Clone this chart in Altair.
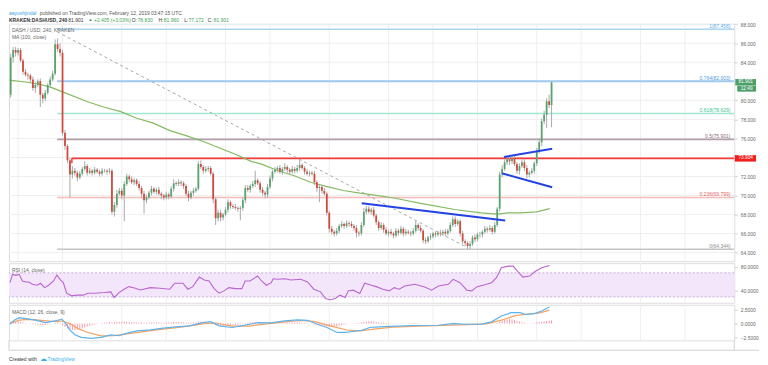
import altair as alt
import pandas as pd

# ---------------- data ----------------
# 4-hour candles, KRAKEN DASH/USD; day = days since Jan 7 2019 00:00 UTC
first_day = -2 / 3
candle_step = 1 / 6
first_open = 79.3
closes = [
    80.6, 84.5, 85.3, 85.0, 85.3, 84.2,
    83.0, 82.7, 82.6, 82.2, 81.3, 81.6,
    82.0, 80.6, 80.2, 80.8, 81.6, 82.2,
    82.8, 85.9, 85.4, 85.0, 76.6, 75.2,
    73.7, 72.2, 72.6, 72.4, 71.9, 72.3,
    72.8, 73.1, 72.4, 72.6, 72.4, 72.7,
    72.5, 72.3, 72.6, 72.6, 72.5, 72.6,
    68.3, 69.0, 70.2, 70.5, 70.0, 71.2,
    72.0, 71.7, 71.4, 71.6, 71.2, 70.8,
    70.2, 69.5, 69.8, 70.3, 70.7, 70.4,
    70.6, 70.2, 70.0, 69.8, 70.1, 69.9,
    70.7, 71.3, 71.2, 71.4, 71.3, 71.0,
    70.2, 69.8, 70.3, 70.5, 70.7, 73.3,
    73.0, 72.6, 72.8, 72.9, 72.3, 69.6,
    67.6, 68.2, 67.7, 68.0, 68.5, 69.3,
    68.9, 68.8, 68.7, 68.6, 68.7, 69.5,
    70.8, 70.6, 71.0, 71.2, 71.6, 71.3,
    70.6, 70.3, 70.1, 70.9, 71.8, 72.5,
    72.7, 72.9, 72.5, 72.8, 73.0, 72.7,
    72.5, 72.8, 72.6, 72.9, 73.2, 72.9,
    72.5, 72.3, 72.4, 72.3, 71.4, 70.8,
    70.9, 70.5, 70.2, 68.2, 66.5, 66.2,
    66.0, 66.3, 66.8, 67.0, 66.8, 67.1,
    67.0, 66.8, 66.6, 66.1, 66.0, 66.9,
    68.3, 68.6, 68.3, 68.5, 67.9, 67.2,
    66.6, 66.9, 66.4, 66.0, 66.2, 66.0,
    65.8, 66.3, 66.1, 66.5, 66.0, 66.2,
    66.1, 66.0, 66.3, 66.9, 66.6, 66.3,
    65.3, 65.2, 65.6, 65.7, 66.0, 65.9,
    66.1, 66.0, 66.2, 66.0, 66.3, 66.9,
    67.5, 67.0, 67.3, 66.0, 65.2, 65.0,
    64.7, 64.9, 65.6, 65.4, 65.9, 65.9,
    66.2, 66.5, 66.4, 66.6, 66.2, 66.9,
    68.6, 72.2, 72.8, 73.5, 73.8, 73.6,
    73.9, 73.3, 72.6, 73.1, 73.5, 72.9,
    72.2, 72.4, 72.6, 73.4, 74.7, 75.6,
    77.8, 78.5, 79.9, 79.5, 81.901,
]
upper_wick = [
    0.3, 0.4, 0.3, 0.3, 0.2, 0.2,
    0.2, 0.3, 0.2, 0.2, 0.3, 0.3,
    0.2, 0.3, 0.2, 0.3, 0.2, 0.3,
    0.3, 0.5, 0.6, 0.6, 0.3, 0.3,
    0.2, 0.3, 0.5, 0.3, 0.2, 0.3,
    0.2, 0.5, 0.2, 0.3, 0.2, 0.3,
    0.2, 0.2, 0.3, 0.2, 0.2, 0.3,
    0.2, 0.3, 0.4, 0.3, 0.3, 0.3,
    0.3, 0.2, 0.3, 0.2, 0.2, 0.3,
    0.2, 0.3, 0.3, 0.2, 0.3, 0.2,
    0.2, 0.3, 0.2, 0.2, 0.3, 0.2,
    0.3, 0.4, 0.2, 0.3, 0.2, 0.2,
    0.2, 0.3, 0.2, 0.3, 0.2, 0.3,
    0.4, 0.2, 0.3, 0.2, 0.2, 0.2,
    0.2, 0.3, 0.3, 0.2, 0.3, 0.3,
    0.2, 0.2, 0.3, 0.2, 0.2, 0.3,
    0.3, 0.3, 0.2, 0.3, 1.0, 0.2,
    0.2, 0.3, 0.2, 0.3, 0.3, 0.2,
    0.3, 0.2, 0.3, 0.2, 0.4, 0.2,
    0.2, 0.3, 0.2, 0.3, 0.6, 0.2,
    0.2, 0.3, 0.2, 0.2, 0.3, 0.2,
    0.3, 0.2, 0.3, 0.2, 0.2, 0.3,
    0.2, 0.3, 0.2, 0.3, 0.2, 0.3,
    0.2, 0.3, 0.2, 0.3, 0.2, 0.3,
    0.4, 0.3, 0.3, 0.2, 0.3, 0.2,
    0.2, 0.3, 0.2, 0.3, 0.2, 0.3,
    0.2, 0.3, 0.2, 0.3, 0.2, 0.3,
    0.2, 0.2, 0.3, 0.4, 0.2, 0.3,
    0.2, 0.3, 0.2, 0.3, 0.2, 0.2,
    0.2, 0.3, 0.2, 0.3, 0.2, 0.3,
    0.3, 0.3, 0.2, 0.2, 0.3, 0.2,
    0.2, 0.3, 0.2, 0.3, 0.2, 0.3,
    0.2, 0.3, 0.2, 0.3, 0.2, 0.3,
    0.2, 0.3, 0.4, 0.3, 0.3, 0.3,
    0.2, 0.3, 0.2, 0.3, 0.3, 0.3,
    0.3, 0.2, 0.3, 0.2, 0.3, 0.4,
    0.3, 0.4, 0.3, 0.7, 0.06,
]
lower_wick = [
    0.3, 0.3, 0.5, 0.4, 0.3, 0.2,
    0.3, 0.2, 0.4, 0.3, 0.3, 0.5,
    0.2, 1.3, 0.5, 0.3, 0.2, 0.2,
    0.2, 0.2, 0.3, 0.4, 0.3, 0.4,
    0.3, 2.4, 0.4, 0.3, 0.4, 0.2,
    0.2, 0.2, 0.3, 0.2, 0.3, 0.2,
    0.2, 0.3, 0.2, 0.2, 0.3, 0.2,
    0.3, 0.5, 0.3, 0.2, 0.4, 2.7,
    0.2, 0.3, 0.2, 0.3, 0.2, 0.3,
    0.4, 1.4, 0.3, 0.2, 0.3, 0.2,
    0.3, 0.2, 0.4, 0.3, 0.2, 0.3,
    0.2, 0.3, 0.2, 0.2, 0.3, 0.3,
    0.3, 0.4, 0.2, 0.3, 0.2, 0.2,
    0.2, 0.3, 0.2, 0.3, 0.2, 0.4,
    0.7, 0.3, 0.4, 0.3, 0.2, 0.3,
    0.3, 0.2, 0.2, 0.3, 1.2, 0.3,
    0.3, 0.2, 0.3, 0.2, 0.3, 0.2,
    0.3, 0.3, 0.4, 0.3, 0.2, 0.3,
    0.2, 0.3, 0.2, 0.3, 0.2, 0.3,
    0.3, 0.2, 0.3, 0.2, 0.3, 0.2,
    0.3, 0.2, 0.3, 0.2, 0.3, 0.4,
    1.5, 0.3, 0.2, 0.3, 0.4, 0.3,
    0.3, 0.2, 0.3, 0.2, 0.3, 0.2,
    0.3, 0.2, 0.3, 0.5, 0.3, 0.2,
    0.2, 0.3, 0.2, 0.3, 0.2, 0.3,
    0.3, 0.2, 0.3, 0.2, 0.3, 0.2,
    0.3, 0.2, 0.3, 0.2, 0.3, 0.2,
    0.2, 0.3, 0.2, 0.2, 0.3, 0.2,
    0.3, 0.3, 0.2, 0.3, 0.2, 0.3,
    0.2, 0.3, 0.2, 0.3, 0.2, 0.2,
    0.2, 0.3, 0.2, 0.3, 0.3, 0.3,
    0.35, 0.3, 0.2, 0.3, 0.2, 0.3,
    0.3, 0.2, 0.3, 0.2, 0.3, 0.2,
    0.2, 0.3, 0.3, 0.2, 0.3, 0.4,
    0.3, 0.2, 0.3, 0.4, 0.2, 0.3,
    0.4, 0.3, 0.2, 0.3, 0.3, 0.3,
    0.4, 0.3, 1.4, 0.3, 2.33,
]
macd_hist = [
    0.2, 0.3, 0.4, 0.45, 0.4, 0.3,
    0.2, 0.1, 0.0, -0.05, -0.1, -0.15,
    -0.2, -0.25, -0.3, -0.25, -0.2, -0.1,
    0.0, 0.15, 0.2, 0.1, -0.3, -0.6,
    -0.85, -1.05, -1.15, -1.2, -1.1, -1.0,
    -0.85, -0.7, -0.55, -0.4, -0.3, -0.2,
    -0.1, 0.0, 0.1, 0.15, 0.2, 0.25,
    0.2, 0.25, 0.3, 0.3, 0.3, 0.35,
    0.3, 0.3, 0.25, 0.25, 0.2, 0.2,
    0.2, 0.15, 0.15, 0.2, 0.2, 0.25,
    0.2, 0.2, 0.15, 0.15, 0.2, 0.2,
    0.25, 0.3, 0.3, 0.3, 0.25, 0.2,
    0.15, 0.15, 0.2, 0.2, 0.2, 0.35,
    0.35, 0.3, 0.25, 0.2, 0.1, -0.1,
    -0.3, -0.35, -0.4, -0.4, -0.35, -0.3,
    -0.3, -0.25, -0.25, -0.2, -0.15, -0.05,
    0.1, 0.15, 0.2, 0.25, 0.3, 0.3,
    0.25, 0.2, 0.15, 0.2, 0.25, 0.3,
    0.3, 0.3, 0.25, 0.25, 0.25, 0.2,
    0.2, 0.2, 0.2, 0.2, 0.2, 0.15,
    0.1, 0.05, 0.0, -0.05, -0.15, -0.25,
    -0.3, -0.35, -0.4, -0.5, -0.6, -0.6,
    -0.55, -0.5, -0.4, -0.3, -0.2, -0.1,
    -0.05, 0.0, 0.05, 0.1, 0.1, 0.2,
    0.3, 0.35, 0.4, 0.4, 0.35, 0.3,
    0.25, 0.2, 0.15, 0.1, 0.1, 0.05,
    0.05, 0.05, 0.05, 0.05, 0.05, 0.05,
    0.05, 0.05, 0.05, 0.1, 0.1, 0.05,
    0.0, -0.05, -0.05, 0.0, 0.0, 0.05,
    0.05, 0.05, 0.05, 0.05, 0.05, 0.1,
    0.15, 0.15, 0.1, 0.05, 0.0, -0.05,
    -0.1, -0.1, -0.05, -0.05, 0.0, 0.0,
    0.05, 0.05, 0.05, 0.05, 0.05, 0.05,
    0.1, 0.3, 0.5, 0.65, 0.75, 0.8,
    0.75, 0.65, 0.5, 0.35, 0.25, 0.15,
    0.05, 0.0, 0.05, 0.1, 0.2, 0.3,
    0.35, 0.4, 0.45, 0.5, 0.55,
]

# MA(100, close)
ma_day = [-0.59, 0.51, 1.38, 2.28, 3.17, 4.69, 5.82, 6.93, 8.01, 9.13, 10.24, 11.34,
          12.45, 13.56, 14.66, 15.77, 16.43, 17.54, 18.64, 19.74, 20.85, 21.95, 23.06,
          24.17, 25.27, 27.26, 29.47, 31.24, 32.34, 33.01, 33.89, 35.0, 35.88]
ma_val = [82.13, 81.93, 81.72, 81.34, 80.79, 79.85, 79.28, 78.82, 78.12, 77.61, 76.82, 76.30,
          75.71, 75.02, 74.33, 73.56, 73.30, 72.60, 72.08, 71.39, 70.94, 70.53, 70.25,
          70.01, 69.77, 69.15, 68.53, 68.18, 68.04, 68.18, 68.18, 68.28, 68.63]

# RSI(14, close)
rsi_day = [-0.55, -0.37, -0.15, 0.07, 0.30, 0.51, 0.73, 0.96, 1.29, 1.51, 1.79, 2.06, 2.39,
           2.62, 2.83, 3.05, 3.28, 3.61, 3.94, 4.38, 4.71, 5.16, 5.82, 6.26, 6.48, 6.81,
           7.15, 7.48, 7.92, 8.25, 8.92, 9.58, 10.24, 10.57, 11.12, 11.46, 11.79, 12.23,
           12.56, 12.89, 13.23, 13.56, 13.89, 14.22, 14.66, 15.10, 15.32, 15.65, 16.16,
           16.43, 16.76, 17.09, 17.21, 17.54, 17.97, 18.42, 19.08, 19.53, 19.96, 20.41,
           20.74, 21.07, 21.40, 21.73, 22.07, 22.28, 22.62, 23.06, 23.39, 23.84, 24.17,
           24.61, 25.05, 25.38, 25.71, 26.11, 26.77, 27.44, 27.90, 28.37, 29.03, 29.36,
           29.82, 30.29, 30.62, 30.95, 31.61, 31.95, 32.28, 32.61, 33.08, 33.41, 33.74,
           34.07, 34.53, 34.86, 35.33, 35.86]
rsi_val = [53.7, 67.5, 65.8, 67.5, 56.5, 54.8, 54.8, 51.0, 49.4, 52.7, 45.4, 49.4, 56.5,
           66.3, 59.3, 53.7, 36.2, 31.8, 32.9, 32.9, 36.2, 36.2, 37.2, 38.4, 29.0, 37.2,
           42.8, 47.1, 44.4, 41.6, 45.4, 44.4, 42.8, 52.7, 52.7, 42.8, 47.1, 63.0,
           58.1, 56.5, 43.8, 36.2, 40.0, 45.4, 43.8, 43.8, 56.5, 56.5, 64.7,
           56.5, 49.4, 53.7, 60.2, 59.3, 60.2, 58.1, 59.3, 54.8, 42.8, 38.4,
           27.3, 25.2, 27.3, 32.9, 29.0, 40.0, 41.2, 35.6, 52.7, 49.4, 47.1,
           42.8, 40.0, 45.4, 42.8, 48.2, 51.0, 46.6, 41.2, 48.2, 51.0, 59.3,
           53.7, 41.2, 40.0, 46.6, 51.0, 53.7, 61.9, 78.4, 81.2, 81.2, 71.8,
           63.0, 64.7, 71.8, 78.4, 82.3]
rsi_band = [30, 70]

# MACD(12, 26, close, 9)
macd_day = [-0.55, -0.26, 0.07, 0.51, 1.18, 1.84, 2.50, 2.95, 3.17, 3.50, 3.83, 4.27, 4.94,
            5.60, 6.26, 6.81, 7.36, 8.03, 8.92, 9.80, 10.68, 11.57, 12.45, 13.0, 13.56,
            14.44, 15.32, 16.21, 17.09, 17.97, 18.86, 19.53, 20.19, 20.85, 21.51, 22.07,
            22.62, 23.28, 23.72, 24.39, 25.05, 26.77, 28.37, 29.36, 30.35, 31.28, 31.95,
            32.61, 33.27, 33.87, 34.20, 34.86, 35.33, 35.86]
macd_val = [-0.1, 0.6, 1.06, 0.88, 0.6, 0.18, 0.47, 0.76, 0.18, -1.17, -2.0, -2.46, -2.64,
            -2.46, -2.0, -2.17, -1.7, -1.29, -1.11, -0.82, -0.59, -0.41, 0.18, 0.35, -0.41,
            -0.7, -0.29, 0.18, 0.12, 0.47, 0.65, 0.58, -0.12, -0.7, -1.58, -1.58,
            -1.41, -1.17, -0.7, -0.59, -0.5, -0.35, -0.3, 0.0, -0.12, -0.1, 0.3,
            1.35, 1.94, 1.94, 1.64, 1.76, 2.23, 2.94]
signal_day = [-0.55, 0.07, 0.73, 1.40, 2.28, 2.95, 3.50, 4.05, 4.71, 5.60, 6.48, 7.36, 8.47,
              9.80, 11.12, 12.45, 13.33, 14.44, 15.55, 16.65, 17.97, 19.08, 19.96, 21.07,
              22.18, 23.06, 24.17, 25.27, 27.04, 28.70, 30.35, 31.61, 32.61, 33.54, 34.53,
              35.20, 35.86]
signal_val = [0.0, 0.6, 0.76, 0.6, 0.4, 0.45, 0.0, -0.9, -1.6, -2.2, -2.15, -1.85, -1.45,
              -1.0, -0.6, -0.05, 0.1, -0.45, -0.45, -0.1, 0.3, 0.55, 0.4, -0.4,
              -1.15, -1.3, -0.95, -0.65, -0.45, -0.32, -0.18, -0.05, 0.6, 1.4, 1.7,
              1.9, 2.4]

# Fibonacci retracement
fib_ratio = ["1", "0.764", "0.618", "0.5", "0.236", "0"]
fib_price = [87.458, 82.003, 78.629, 75.901, 69.799, 64.344]
fib_start_day = 2.64
resistance_price = 73.904
resistance_start_day = 3.63

# drawn trend lines: (day, price) end points
dash_day = [2.64, 30.35]
dash_price = [87.2, 64.5]
blue_id = ["a", "a", "b", "b", "c", "c"]
blue_day = [23.19, 32.87, 32.79, 36.04, 32.68, 36.04]
blue_price = [69.18, 67.37, 74.05, 74.91, 72.32, 70.87]

tick_day = [0, 3, 7, 10, 14, 17, 21, 25, 28, 31, 35, 38, 42, 45]
tick_label = ["7", "10", "14", "17", "21", "24", "28", "Feb", "4", "7", "11", "14", "18", "21"]
price_grid = [64, 66, 68, 70, 72, 74, 76, 78, 80, 82, 84, 86, 88]
# 82 and 74 are hidden behind the last-price and line-price tags
price_labels = [64, 66, 68, 70, 72, 76, 78, 80, 84, 86, 88]

# ---------------- layout / style ----------------
W = 733
H1, H2, H3 = 240, 40, 36
XDOM = [-0.613, 48.33]
UP, DOWN, WICK = "#58a36f", "#d14a3d", "#a9a9a9"
FONT = "Liberation Sans"
fib_line_col = ["#a9d4f4", "#9fc8ee", "#a3e8d3", "#b39fab", "#f5baba", "#c6c6c6"]
fib_text_col = ["#5eaee8", "#4d9bdc", "#3fc39a", "#8a6b7c", "#e26565", "#8c8c8c"]
fib_width = [1.5, 2, 1.5, 2, 1.5, 1.5]

xs = alt.Scale(domain=XDOM, nice=False, zero=False)
X = lambda f: alt.X(f, type="quantitative", scale=xs, axis=None)

one = pd.DataFrame({"k": [0]})


def label(text, x, y, color="#555", size=5, weight="normal", align="left"):
    return alt.Chart(one).mark_text(
        text=text, align=align, baseline="middle", fontSize=size, fontWeight=weight,
        color=color, font=FONT, clip=False
    ).encode(x=alt.value(x), y=alt.value(y))


# ---------------- tables ----------------
n = len(closes)
opens = [first_open] + closes[:-1]
candles = pd.DataFrame({
    "day": [first_day + i * candle_step for i in range(n)],
    "open": opens,
    "close": closes,
    "high": [max(o, c) + u for o, c, u in zip(opens, closes, upper_wick)],
    "low": [min(o, c) - l for o, c, l in zip(opens, closes, lower_wick)],
    "hist": macd_hist,
})
candles["col"] = [UP if c >= o else DOWN for o, c in zip(opens, closes)]

fib = pd.DataFrame({
    "start": fib_start_day, "end": XDOM[1], "price": fib_price,
    "lab": [f"{r}({p:.3f})" for r, p in zip(fib_ratio, fib_price)],
    "lc": fib_line_col, "tc": fib_text_col, "w": fib_width,
})
ticks = pd.DataFrame({"day": tick_day})
pgrid = pd.DataFrame({"p": price_grid})
ma = pd.DataFrame({"day": ma_day, "v": ma_val})
rsi = pd.DataFrame({"day": rsi_day, "v": rsi_val})
macd = pd.DataFrame({"day": macd_day, "v": macd_val})
sig = pd.DataFrame({"day": signal_day, "v": signal_val})
dash = pd.DataFrame({"day": dash_day, "price": dash_price})
blue = pd.DataFrame({"id": blue_id, "day": blue_day, "price": blue_price})
res = pd.DataFrame({"start": [resistance_start_day], "end": [XDOM[1]],
                    "price": [resistance_price], "lo": [resistance_price - 0.5]})
last = pd.DataFrame({"price": [closes[-1]], "t": [f"{closes[-1]:.3f}"]})
resbox = pd.DataFrame({"price": [resistance_price], "t": [f"{resistance_price:.3f}"]})

# ---------------- main price panel ----------------
ys = alt.Scale(domain=[63.1, 88.05], nice=False, zero=False)
yax = alt.Axis(orient="right", values=price_labels, format=".3f", grid=False,
               domain=False, tickSize=3, tickColor="#cfcfcf",
               labelFontSize=5, labelColor="#6a6a6a", labelPadding=3, title=None,
               labelFont=FONT)
Y = lambda f: alt.Y(f, type="quantitative", scale=ys, axis=yax)

vgrid = lambda: alt.Chart(ticks).mark_rule(color="#efefef", strokeWidth=1).encode(x=X("day"))
hgrid = alt.Chart(pgrid).mark_rule(color="#efefef", strokeWidth=1, clip=True).encode(y=Y("p"))

fib_lines = alt.Chart(fib).mark_rule(clip=True).encode(
    x=X("start"), x2="end", y=Y("price"),
    color=alt.Color("lc:N", scale=None), strokeWidth=alt.StrokeWidth("w:Q", scale=None))
fib_text = alt.Chart(fib).mark_text(align="right", baseline="bottom", fontSize=5, dy=-0.5,
                                    font=FONT).encode(
    x=alt.value(W - 4), y=Y("price"), text="lab:N", color=alt.Color("tc:N", scale=None))
res_line = alt.Chart(res).mark_rule(color="#f23c3c", strokeWidth=2, clip=True).encode(
    x=X("start"), x2="end", y=Y("price"))
res_tick = alt.Chart(res).mark_rule(color="#f23c3c", strokeWidth=1.5).encode(
    x=X("start"), y=Y("price"), y2="lo")
ma_line = alt.Chart(ma).mark_line(color="#84bb62", strokeWidth=1.2, clip=True).encode(
    x=X("day"), y=Y("v"))
dash_line = alt.Chart(dash).mark_line(color="#a6a6a6", strokeWidth=1, strokeDash=[3, 3]).encode(
    x=X("day"), y=Y("price"))
wicks = alt.Chart(candles).mark_rule(color=WICK, strokeWidth=1, clip=True).encode(
    x=X("day"), y=Y("low"), y2="high")
bodies = alt.Chart(candles).mark_rule(strokeWidth=1.8, clip=True).encode(
    x=X("day"), y=Y("open"), y2="close", color=alt.Color("col:N", scale=None))
blue_lines = alt.Chart(blue).mark_line(color="#2342e3", strokeWidth=2).encode(
    x=X("day"), y=Y("price"), detail="id:N")
box_last = alt.Chart(last).mark_rule(color="#4f9f6a", strokeWidth=6.5, strokeCap="butt",
                                     clip=False).encode(
    x=alt.value(W + 1), x2=alt.value(W + 22), y=Y("price"))
box_last2 = alt.Chart(last).mark_rule(color="#4f9f6a", strokeWidth=6, strokeCap="butt",
                                      clip=False, yOffset=6.5).encode(
    x=alt.value(W + 3), x2=alt.value(W + 22), y=Y("price"))
txt_last = alt.Chart(last).mark_text(color="white", fontSize=4.8, font=FONT, clip=False).encode(
    x=alt.value(W + 11.5), y=Y("price"), text="t:N")
txt_last2 = alt.Chart(last).mark_text(text="12:49", color="white", fontSize=4.8, font=FONT,
                                      clip=False, yOffset=6.5).encode(
    x=alt.value(W + 12.5), y=Y("price"))
box_res = alt.Chart(resbox).mark_rule(color="#f21d1d", strokeWidth=6.5, strokeCap="butt",
                                      clip=False).encode(
    x=alt.value(W + 0.5), x2=alt.value(W + 22), y=Y("price"))
txt_res = alt.Chart(resbox).mark_text(color="white", fontSize=4.8, font=FONT, clip=False).encode(
    x=alt.value(W + 11.5), y=Y("price"), text="t:N")

G = "#3e9f55"
header = [
    label("aayushjindal", 0, -11, "#3a9fe0"),
    label("published on TradingView.com, February 12, 2019 03:47:15 UTC", 31, -11, "#555"),
    label("KRAKEN:DASHUSD, 240", 0, -4, "#333", weight="bold"),
    label("81.901", 60, -4, "#333"),
    label("▲", 80, -4, G, size=4.5),
    label("+2.405 (+3.03%)", 86, -4, G),
    label("O:", 124, -4, "#333"), label("78.830", 130, -4, G),
    label("H:", 151, -4, "#333"), label("81.960", 156.5, -4, G),
    label("L:", 177, -4, "#333"), label("77.172", 181.5, -4, G),
    label("C:", 201, -4, "#333"), label("81.901", 207, -4, G),
    label("DASH / USD, 240, KRAKEN", 3, 6, "#666"),
    label("MA (100, close)", 3, 13, "#666"),
]

main = alt.layer(
    hgrid, vgrid(), fib_lines, res_line, res_tick, ma_line, dash_line, wicks, bodies,
    blue_lines, fib_text, box_last, box_last2, txt_last, txt_last2, box_res, txt_res, *header,
).properties(width=W, height=H1)

# ---------------- RSI panel ----------------
rs = alt.Scale(domain=[20.25, 86.1], nice=False, zero=False)
rax = alt.Axis(orient="right", values=[40, 80], format=".4f", grid=False, domain=False,
               tickSize=3, tickColor="#cfcfcf", labelFontSize=5, labelColor="#6a6a6a",
               labelPadding=3, title=None, labelFont=FONT)
RY = lambda f: alt.Y(f, type="quantitative", scale=rs, axis=rax)
band = pd.DataFrame({"lo": [rsi_band[0]], "hi": [rsi_band[1]]})
bandlines = pd.DataFrame({"v": rsi_band})
rsi_panel = alt.layer(
    vgrid(),
    alt.Chart(band).mark_rect(color="#f3e6fb").encode(
        x=alt.value(0), x2=alt.value(W), y=RY("hi"), y2="lo"),
    alt.Chart(bandlines).mark_rule(color="#c7b2d8", strokeDash=[2, 2], strokeWidth=1).encode(
        y=RY("v")),
    alt.Chart(rsi).mark_line(color="#b966cf", strokeWidth=1.1, clip=True).encode(
        x=X("day"), y=RY("v")),
    label("RSI (14, close)", 3, 7, "#666"),
).properties(width=W, height=H2)

# ---------------- MACD panel ----------------
ms = alt.Scale(domain=[-2.99, 3.35], nice=False, zero=False)
max_ = alt.Axis(orient="right", values=[-2.5, 0, 2.5], format=".4f", grid=False, domain=False,
                tickSize=3, tickColor="#cfcfcf", labelFontSize=5, labelColor="#6a6a6a",
                labelPadding=3, title=None, labelFont=FONT)
MY = lambda f: alt.Y(f, type="quantitative", scale=ms, axis=max_)
label_expr = ("[" + ",".join(f"'{t}'" for t in tick_label) + "][indexof(["
              + ",".join(str(d) for d in tick_day) + "], datum.value)]")
xax = alt.Axis(values=tick_day, labelExpr=label_expr, grid=False, domain=False, tickSize=2,
               tickColor="#bbbbbb", labelFontSize=5, labelColor="#555", labelPadding=2,
               title=None, labelFlush=False, labelOverlap=False, labelFont=FONT)
frame = pd.DataFrame({"k": [0]})
macd_panel = alt.layer(
    alt.Chart(ticks).mark_rule(color="#efefef", strokeWidth=1).encode(
        x=alt.X("day:Q", scale=xs, axis=xax)),
    alt.Chart(candles).mark_rule(color="#f39aab", strokeWidth=1, clip=True).encode(
        x=X("day"), y=MY("hist"), y2=alt.datum(0)),
    alt.Chart(sig).mark_line(color="#f6a263", strokeWidth=1.2, clip=True).encode(
        x=X("day"), y=MY("v")),
    alt.Chart(macd).mark_line(color="#5cb3ee", strokeWidth=1.2, clip=True).encode(
        x=X("day"), y=MY("v")),
    label("MACD (12, 26, close, 9)", 3, 7, "#666"),
    alt.Chart(frame).mark_rule(color="#cfcfcf").encode(
        x=alt.value(0), x2=alt.value(W + 25), y=alt.value(H3 + 10)),
    alt.Chart(frame).mark_rule(color="#cfcfcf").encode(
        x=alt.value(W), y=alt.value(H3), y2=alt.value(H3 + 10)),
    alt.Chart(frame).mark_rule(color="#cfcfcf").encode(
        x=alt.value(0), y=alt.value(H3), y2=alt.value(H3 + 10)),
    label("Created with", 0, H3 + 19, "#333"),
    label("☁", 31, H3 + 19, "#3bb0e3", size=7),
    label("TradingView", 39, H3 + 19, "#3bb0e3"),
).properties(width=W, height=H3)

chart = alt.vconcat(main, rsi_panel, macd_panel, spacing=0).properties(
    padding=0
).configure_view(stroke="#c9c9c9", strokeWidth=1).configure(font=FONT)

chart.save("out.html", embed_options={"renderer": "svg", "actions": False})
